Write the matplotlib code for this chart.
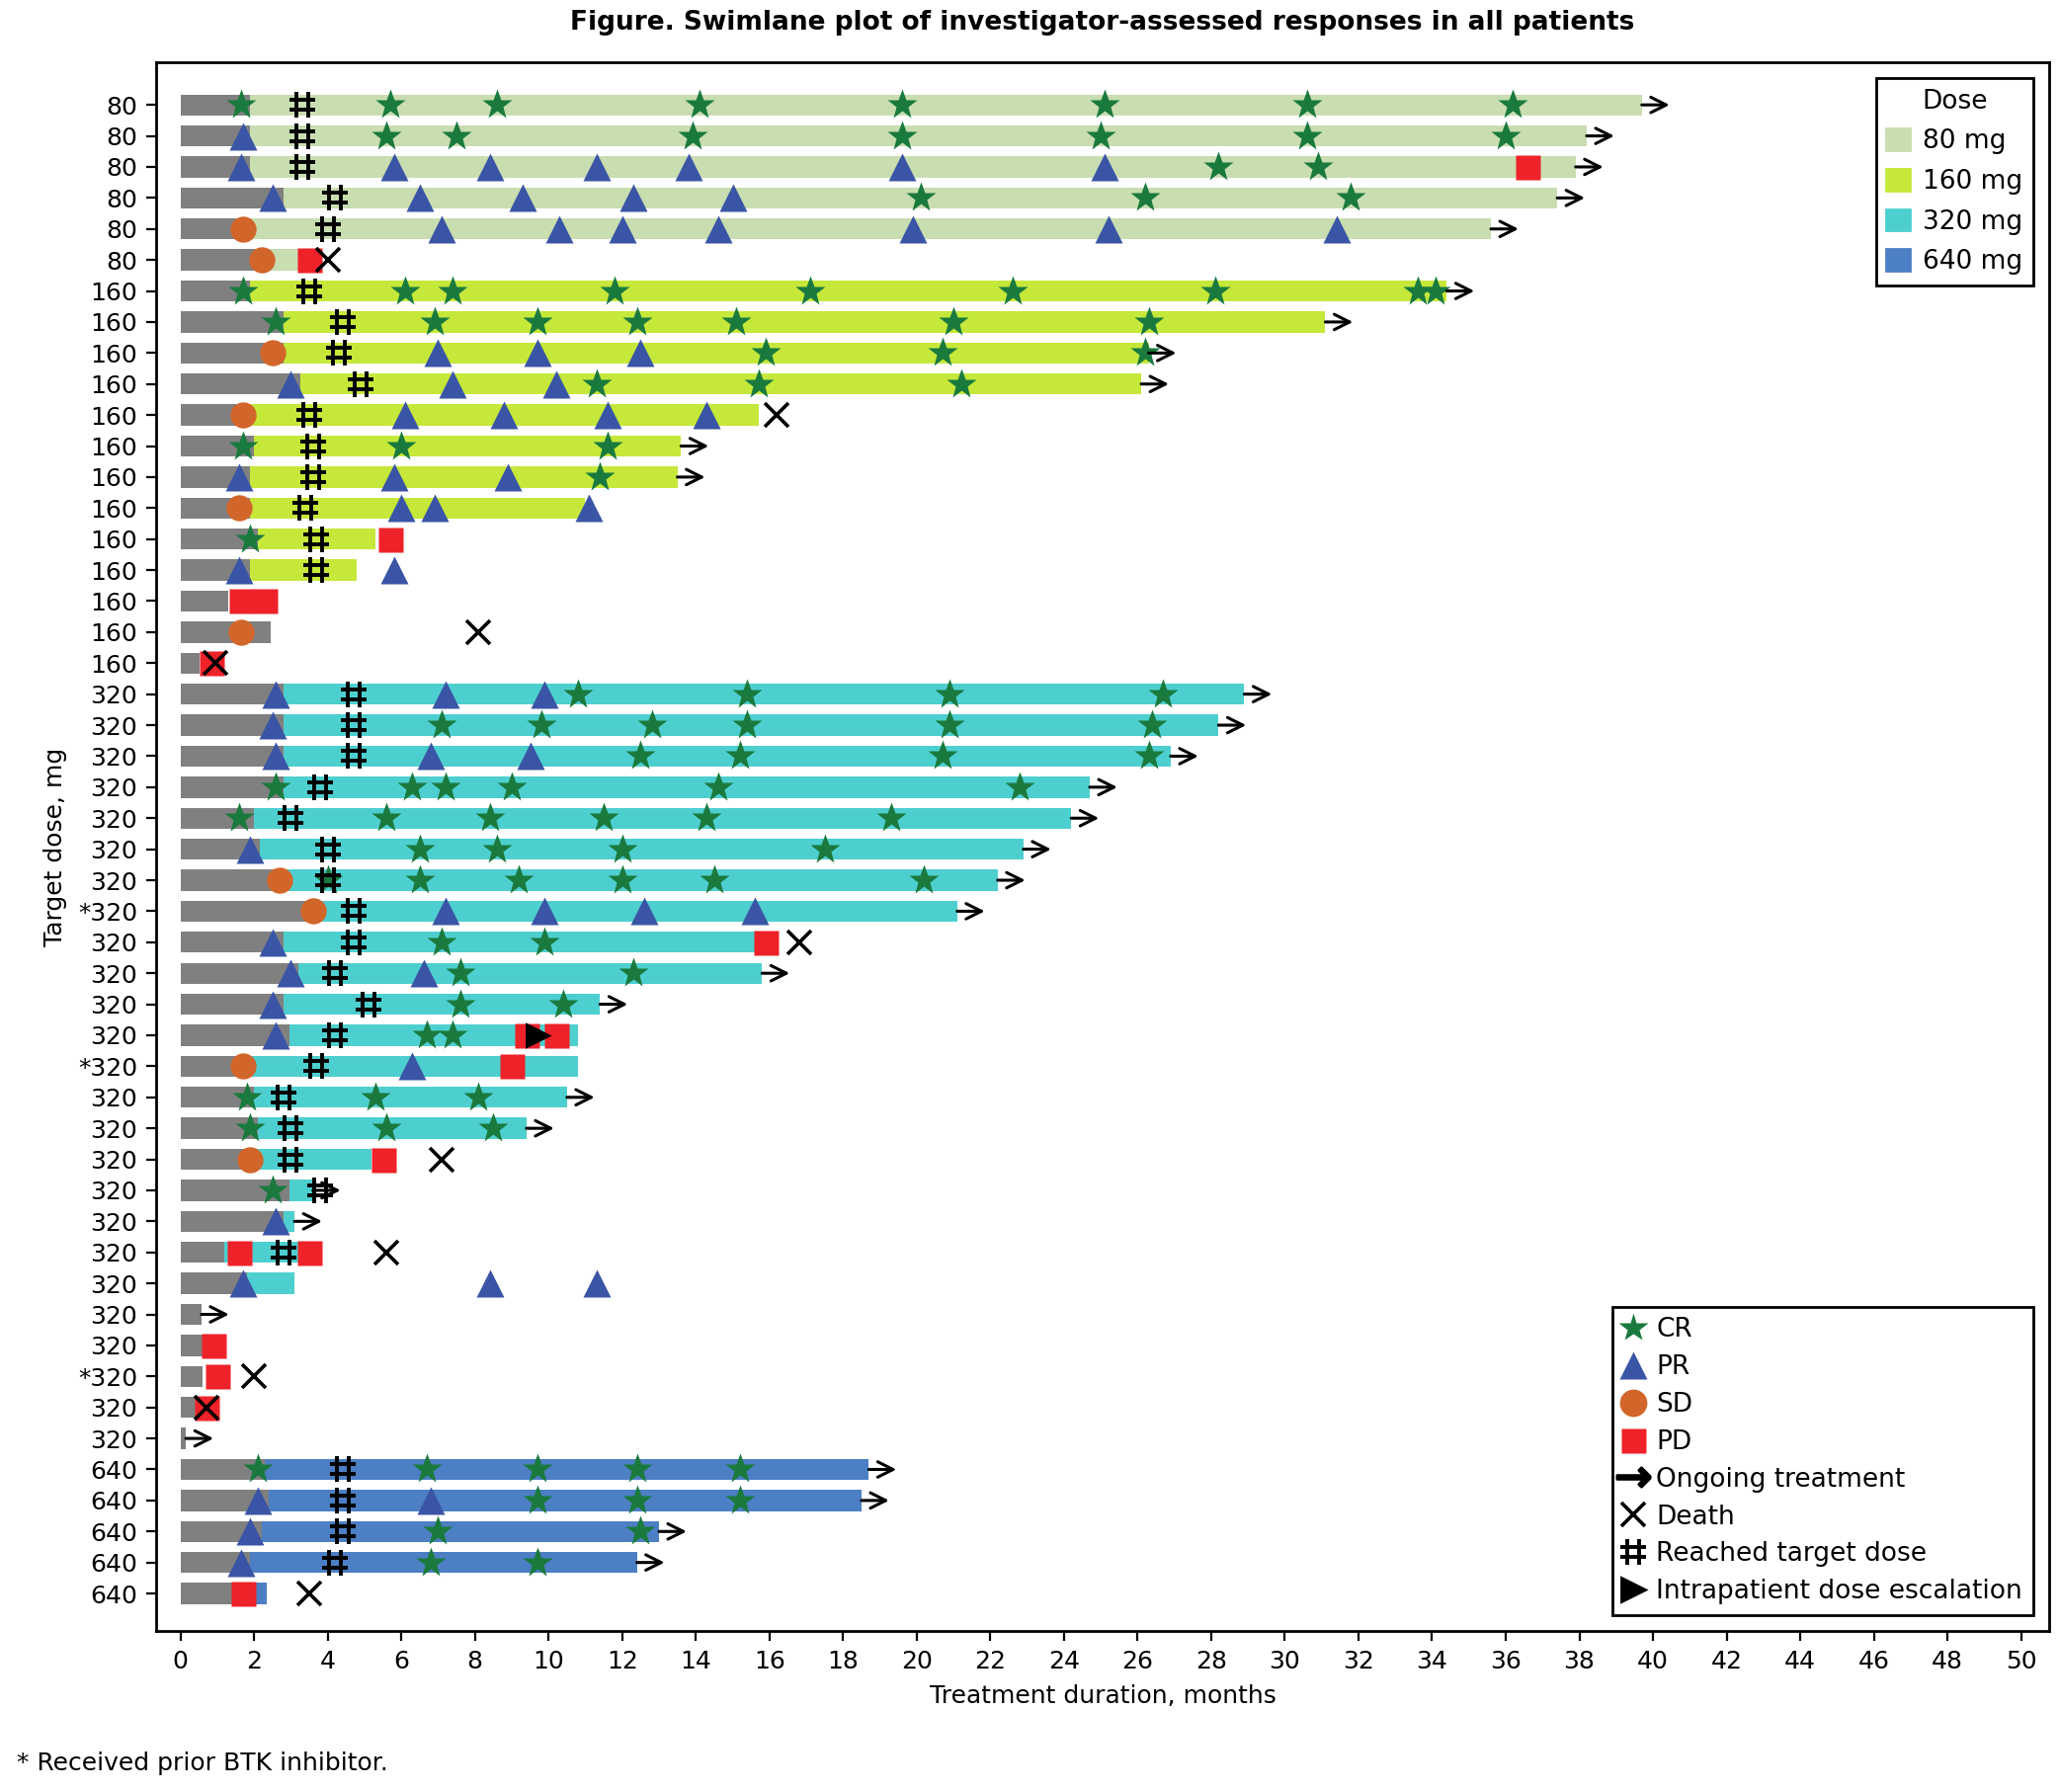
import matplotlib
matplotlib.use("Agg")
import matplotlib.pyplot as plt
from matplotlib.path import Path
from matplotlib.lines import Line2D
from matplotlib.patches import Patch

labels = ['80']*6 + ['160']*13 + ['320']*25 + ['640']*5
for i in (26, 31, 41):
    labels[i] = '*320'
dose = [80]*6 + [160]*13 + [320]*25 + [640]*5

gray_end = [1.9,1.9,1.9,2.8,1.9,2.2, 1.9,2.8,2.8,3.25,1.9,2.0,1.9,1.9,2.1,1.9,1.3,2.45,0.52,
            2.8,2.8,2.8,2.8,2.0,2.15,2.8,3.6,2.8,3.2,2.8,2.96,1.7,2.0,2.1,2.0,2.96,2.8,1.2,1.8,0.57,0.6,0.6,0.4,0.15,
            2.3,2.4,2.2,1.9,1.5]
bar_end = [39.7,38.2,37.9,37.4,35.6,3.6, 34.4,31.1,26.3,26.1,15.7,13.6,13.5,11.0,5.3,4.8,1.3,2.45,0.52,
           28.9,28.2,26.9,24.7,24.2,22.9,22.2,21.1,16.1,15.8,11.4,10.8,10.8,10.5,9.4,5.2,3.6,3.1,3.6,3.1,0.57,0.6,0.6,0.4,0.15,
           18.7,18.5,13.0,12.4,2.35]
ongoing = [1,1,1,1,1,0, 1,1,1,1,0,1,1,0,0,0,0,0,0,
           1,1,1,1,1,1,1,1,0,1,1,0,0,1,1,0,1,1,0,0,1,0,0,0,1,
           1,1,1,1,0]
cr = [[1.65,5.7,8.6,14.1,19.6,25.1,30.6,36.2],[5.6,7.5,13.9,19.6,25.0,30.6,36.0],[28.2,30.9],[20.1,26.2,31.8],[],[],
      [1.7,6.1,7.4,11.8,17.1,22.6,28.1,33.6,34.1],[2.6,6.9,9.7,12.4,15.1,21.0,26.3],[15.9,20.7,26.2],[11.3,15.7,21.2],[],
      [1.7,6.0,11.6],[11.4],[],[1.9],[],[],[],[],
      [10.8,15.4,20.9,26.7],[7.1,9.8,12.8,15.4,20.9,26.4],[12.5,15.2,20.7,26.3],[2.6,6.3,7.2,9.0,14.6,22.8],
      [1.6,5.6,8.4,11.5,14.3,19.3],[6.5,8.6,12.0,17.5],[4.0,6.5,9.2,12.0,14.5,20.2],[],[7.1,9.9],[7.6,12.3],[7.6,10.4],
      [6.7,7.4],[],[1.8,5.3,8.1],[1.9,5.6,8.5],[],[2.5],[],[],[],[],[],[],[],[],
      [2.1,6.7,9.7,12.4,15.2],[9.7,12.4,15.2],[7.0,12.5],[6.8,9.7],[]]
pr = [[],[1.7],[1.65,5.8,8.4,11.3,13.8,19.6,25.1],[2.5,6.5,9.3,12.3,15.0],[7.1,10.3,12.0,14.6,19.9,25.2,31.4],[],
      [],[],[7.0,9.7,12.5],[3.0,7.4,10.2],[6.1,8.8,11.6,14.3],[],[1.6,5.8,8.9],[6.0,6.9,11.1],[],[1.6,5.8],[],[],[],
      [2.6,7.2,9.9],[2.5],[2.6,6.8,9.5],[],[],[1.9],[],[7.2,9.9,12.6,15.6],[2.5],[3.0,6.6],[2.5],[2.6],[6.3],[],[],[],[],
      [2.6],[],[1.7,8.4,11.3],[],[],[],[],[],
      [],[2.1,6.8],[1.9],[1.65],[]]
sd = [[],[],[],[],[1.7],[2.2],[],[],[2.5],[],[1.7],[],[],[1.6],[],[],[],[1.65],[],
      [],[],[],[],[],[],[2.7],[3.6],[],[],[],[],[1.7],[],[],[1.9],[],[],[],[],[],[],[],[],[],
      [],[],[],[],[]]
pd_ = [[],[],[36.6],[],[],[3.5],[],[],[],[],[],[],[],[],[5.7],[],[1.64,2.3],[],[0.85],
       [],[],[],[],[],[],[],[],[15.9],[],[],[9.4,10.2],[9.0],[],[],[5.5],[],[],[1.6,3.5],[],[],[0.9],[1.0],[0.7],[],
       [],[],[],[],[1.7]]
target = [3.3,3.3,3.3,4.2,4.0,None, 3.5,4.4,4.3,4.9,3.5,3.6,3.6,3.4,3.7,3.7,None,None,None,
          4.7,4.7,4.7,3.8,3.0,4.0,4.0,4.7,4.7,4.2,5.1,4.2,3.7,2.8,3.0,3.0,3.8,None,2.8,None,None,None,None,None,None,
          4.4,4.4,4.4,4.2,None]
death = {5:4.0, 10:16.2, 17:8.1, 18:0.95, 27:16.8, 34:7.1, 37:5.6, 41:2.0, 42:0.7, 48:3.5}
escalation = {30:9.7}

dose_colors = {80:'#c8ddb0', 160:'#c5e83a', 320:'#4ecfcf', 640:'#4c7fc4'}
GRAY = '#808080'
hash_path = Path([(-0.45,-1),(-0.45,1),(0.45,-1),(0.45,1),(-1,-0.4),(1,-0.4),(-1,0.4),(1,0.4)],
                 [1,2,1,2,1,2,1,2])

fig = plt.figure(figsize=(10.42, 9.07), dpi=200)
ax = fig.add_axes([0.076, 0.09, 0.919, 0.875])
n = len(labels)
H = 0.68
ms = 9.5
for i in range(n):
    ax.barh(i, gray_end[i], left=0, height=H, color=GRAY, zorder=1)
    if bar_end[i] > gray_end[i]:
        ax.barh(i, bar_end[i]-gray_end[i], left=gray_end[i], height=H, color=dose_colors[dose[i]], zorder=1)
    for x in sd[i]:
        ax.plot(x, i, 'o', color='#d2652a', ms=ms, mec='none', zorder=3)
    for x in pr[i]:
        ax.plot(x, i, '^', color='#3a55a5', ms=ms+0.5, mec='none', zorder=3)
    for x in cr[i]:
        ax.plot(x, i, '*', color='#1a7a3e', ms=ms+2, mec='none', zorder=3)
    for x in pd_[i]:
        ax.plot(x, i, 's', color='#ee2229', ms=ms-0.5, mec='none', zorder=3)
    if target[i] is not None:
        ax.plot(target[i], i, marker=hash_path, color='k', ms=9.5, mew=1.4, ls='none', zorder=5)
    if i in escalation:
        ax.plot(escalation[i], i, '>', color='k', ms=8, zorder=5)
    if i in death:
        ax.plot(death[i], i, 'x', color='k', ms=8.5, mew=1.3, zorder=6)
    if ongoing[i]:
        ax.annotate('', xy=(bar_end[i]+0.9, i), xytext=(bar_end[i]-0.15, i),
                    arrowprops=dict(arrowstyle='->', lw=1.1, color='k', mutation_scale=14), zorder=6)

ax.set_ylim(n-1+1.2, -1.36)
ax.set_xlim(-0.65, 50.75)
ax.set_yticks(range(n))
ax.set_yticklabels(labels, fontsize=9)
ax.set_xticks(range(0, 51, 2))
ax.tick_params(axis='x', labelsize=9)
ax.set_xlabel('Treatment duration, months', fontsize=9)
ax.set_ylabel('Target dose, mg', fontsize=9)
ax.set_title('Figure. Swimlane plot of investigator-assessed responses in all patients',
             fontsize=9.5, fontweight='bold', pad=12)
for s in ax.spines.values():
    s.set_linewidth(1.0)

h1 = [Patch(color=dose_colors[d], label=f'{d} mg') for d in (80, 160, 320, 640)]
leg1 = ax.legend(handles=h1, title='Dose', loc='upper right', fontsize=9.5, title_fontsize=9.5,
                 fancybox=False, edgecolor='k', framealpha=1, handlelength=0.9, handleheight=0.9,
                 borderaxespad=0.6, labelspacing=0.55, handletextpad=0.5)
leg1.get_frame().set_linewidth(1.0)
ax.add_artist(leg1)
h2 = [Line2D([], [], marker='*', color='#1a7a3e', ls='none', ms=11, mec='none', label='CR'),
      Line2D([], [], marker='^', color='#3a55a5', ls='none', ms=10, mec='none', label='PR'),
      Line2D([], [], marker='o', color='#d2652a', ls='none', ms=10, mec='none', label='SD'),
      Line2D([], [], marker='s', color='#ee2229', ls='none', ms=9, mec='none', label='PD'),
      Line2D([], [], marker=r'$\rightarrow$', color='k', ls='none', ms=12, label='Ongoing treatment'),
      Line2D([], [], marker='x', color='k', ls='none', ms=8.5, mew=1.3, label='Death'),
      Line2D([], [], marker=hash_path, color='k', ls='none', ms=9.5, mew=1.4, label='Reached target dose'),
      Line2D([], [], marker='>', color='k', ls='none', ms=8.5, label='Intrapatient dose escalation')]
leg2 = ax.legend(handles=h2, loc='lower right', fontsize=9.5, fancybox=False, edgecolor='k',
                 framealpha=1, handlelength=0.8, handletextpad=0.5, borderaxespad=0.6, labelspacing=0.45)
leg2.get_frame().set_linewidth(1.0)

fig.text(0.008, 0.012, '* Received prior BTK inhibitor.', fontsize=9)
fig.savefig('out.png', dpi=200)
